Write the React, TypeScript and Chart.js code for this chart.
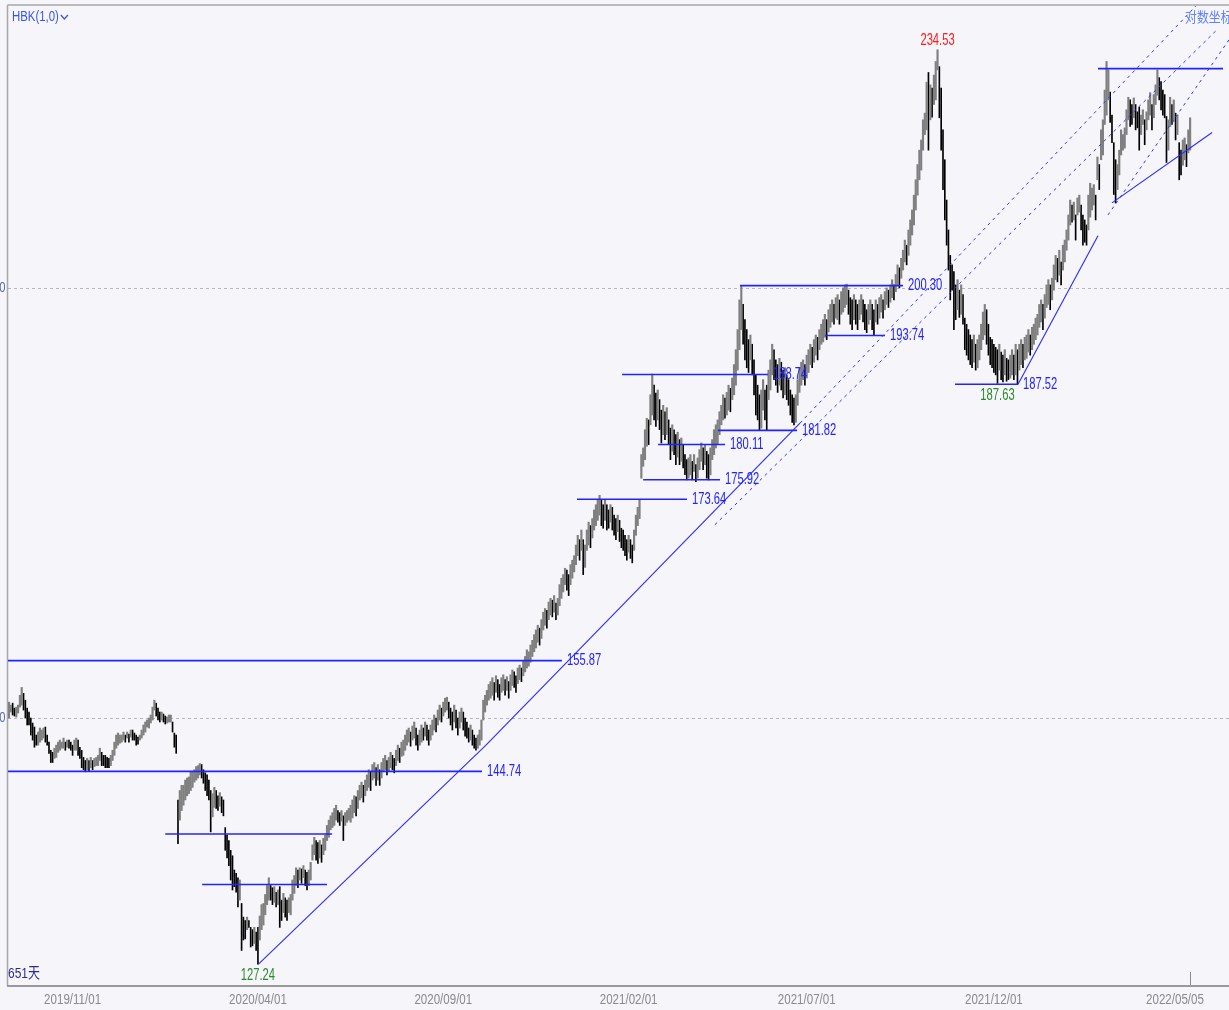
import { useEffect, useRef } from 'react';
import { Chart, registerables } from 'chart.js';

Chart.register(...registerables);

// ---------- DATA ----------
const highs: number[] = [
  151.6,151.3,151.5,151.0,151.1,151.3,152.3,153.1,152.5,151.8,
  151.0,150.6,150.0,149.5,149.1,148.3,148.6,149.0,148.8,149.0,
  149.1,148.3,147.6,146.8,146.6,147.0,147.3,147.6,147.8,147.6,
  148.0,147.6,147.8,147.8,147.6,147.3,147.8,148.0,147.8,147.1,
  146.8,146.1,145.8,146.0,145.8,146.1,145.8,146.0,146.1,146.3,
  147.0,146.6,146.3,146.3,146.1,146.0,146.3,146.8,147.6,148.3,
  148.5,148.3,148.3,148.6,148.3,148.6,148.4,148.8,148.8,148.5,
  148.3,148.1,148.3,148.8,149.3,149.6,149.8,150.0,150.3,151.1,
  151.8,151.5,151.0,150.6,150.6,150.4,150.2,150.1,150.3,150.3,
  149.6,148.5,148.3,142.0,142.9,143.4,143.4,143.9,144.1,144.2,
  144.7,144.7,144.9,145.2,145.3,145.5,145.4,144.9,144.6,144.4,
  143.9,142.9,142.6,143.2,142.9,142.4,142.7,142.3,142.0,139.4,
  138.7,138.2,137.3,136.8,135.5,135.2,134.8,134.6,132.5,131.3,
  131.0,131.3,131.0,130.4,130.2,130.4,130.0,130.4,131.4,132.4,
  132.5,133.3,134.1,134.8,134.1,133.9,134.0,133.5,133.7,134.0,
  132.8,133.4,133.0,132.8,133.0,133.3,134.6,135.0,135.7,135.5,
  135.7,135.6,135.9,135.5,135.3,135.5,136.2,137.8,138.5,138.2,
  138.0,138.2,137.8,138.4,138.7,139.6,140.1,140.5,140.8,141.2,
  141.5,141.0,140.8,141.0,140.5,140.8,141.0,141.2,141.5,142.0,
  142.4,142.3,142.9,143.4,143.7,143.4,143.9,144.4,144.9,144.7,
  145.4,145.6,145.1,145.4,144.9,145.6,146.0,146.3,145.8,146.1,
  146.6,146.3,146.0,146.8,147.3,147.0,147.6,147.8,148.3,148.8,
  149.0,148.6,149.2,149.6,149.0,148.3,148.8,149.3,149.0,149.6,
  149.3,148.8,149.3,149.8,150.3,150.0,150.8,151.3,151.0,151.6,
  152.0,152.1,151.6,151.0,150.6,151.3,150.8,150.0,150.6,151.0,
  150.6,150.0,149.6,149.0,149.3,148.8,148.3,148.0,148.3,148.8,
  149.8,151.8,152.3,152.8,153.4,153.7,154.1,153.6,154.3,153.9,
  153.4,154.1,154.4,153.9,154.2,153.7,154.4,154.9,154.7,154.3,
  155.1,155.4,155.1,155.9,156.3,157.0,156.8,157.5,158.0,158.6,
  159.1,159.6,159.3,160.2,161.0,161.4,161.2,162.1,162.5,162.3,
  162.8,162.0,162.5,164.0,164.7,165.1,165.8,165.6,165.1,166.2,
  166.7,167.2,168.4,169.5,169.0,170.1,169.0,168.4,170.1,171.0,
  170.6,171.4,172.4,173.0,173.6,174.1,173.6,173.0,173.6,173.0,
  172.4,173.0,172.7,171.8,171.4,171.8,171.2,170.3,170.1,169.5,
  169.0,169.5,169.0,168.4,170.1,171.8,172.7,173.6,178.9,179.7,
  181.9,183.3,183.1,186.2,188.8,187.4,186.4,186.8,185.6,184.3,
  184.9,184.1,184.6,183.1,182.1,182.5,181.9,181.3,181.6,180.7,
  180.9,180.1,178.9,178.3,178.5,178.9,178.1,178.9,177.7,178.5,
  179.5,180.3,179.7,180.1,179.3,178.9,179.7,180.7,181.9,182.5,
  183.1,184.1,184.9,186.2,185.8,186.5,187.4,187.0,188.3,190.0,
  191.9,194.5,198.4,200.2,197.8,195.8,194.5,193.2,193.8,192.6,
  190.6,188.7,187.4,186.2,186.8,188.1,186.8,187.4,189.3,190.6,
  192.6,191.9,190.6,190.0,190.8,190.3,189.3,189.6,188.7,188.1,
  186.8,186.2,185.8,186.2,188.1,189.6,190.3,190.6,190.0,191.2,
  191.9,192.6,192.2,193.2,193.8,193.5,194.5,195.2,195.8,196.5,
  195.8,197.1,197.8,198.4,197.8,198.7,199.1,198.4,199.5,200.0,
  200.4,200.5,199.7,198.7,198.4,199.1,198.4,197.8,198.4,199.1,
  198.4,197.8,197.1,197.8,198.4,197.8,197.1,198.4,197.8,198.7,
  199.1,198.4,199.5,200.0,199.7,200.4,201.1,200.4,201.8,203.1,
  202.7,204.0,205.1,206.5,205.8,207.9,209.3,210.7,212.8,215.0,
  217.2,219.3,220.8,223.8,224.8,229.5,231.0,229.1,228.6,230.6,
  232.7,234.53,231.9,228.6,222.3,217.9,212.1,207.9,204.4,203.1,
  202.2,200.4,201.1,199.7,200.4,199.1,196.0,195.2,194.5,193.8,
  193.2,193.8,192.6,193.2,193.8,195.2,196.8,197.8,197.1,195.2,
  193.5,193.2,192.6,192.2,191.9,192.6,191.6,191.2,191.9,190.8,
  190.6,191.2,191.9,191.2,192.6,191.9,192.6,193.2,192.6,193.5,
  193.8,194.5,193.8,194.8,195.2,196.0,196.5,197.8,198.4,197.8,
  199.1,200.4,201.1,200.4,201.3,203.1,204.4,204.0,205.1,203.5,
  205.8,206.5,207.9,210.0,212.1,211.4,211.8,210.0,212.4,212.8,
  211.4,210.0,209.3,208.6,212.8,214.5,213.8,214.3,212.8,218.3,
  217.2,222.3,223.8,228.3,232.7,231.4,228.0,224.5,220.4,217.9,
  217.2,219.3,222.3,221.6,222.6,225.3,227.2,226.8,226.1,227.1,
  226.1,225.0,225.7,224.5,225.3,223.8,225.0,226.8,227.9,226.1,
  227.6,229.1,231.4,230.2,229.6,228.3,227.6,224.3,223.8,227.2,
  226.1,226.8,224.8,224.5,220.4,219.3,220.8,221.1,220.1,222.3,
  224.1,
];

const lows: number[] = [
  150.0,150.6,150.3,150.2,150.1,150.5,151.1,151.3,150.8,150.0,
  149.3,149.3,148.3,147.8,147.1,147.3,147.3,147.6,147.8,148.0,
  147.6,147.3,146.5,145.6,145.6,146.0,146.1,146.6,146.8,147.0,
  147.0,146.8,147.1,147.0,146.8,146.3,146.8,146.8,146.3,146.0,
  145.1,144.9,144.7,144.9,144.8,145.1,144.9,145.2,145.3,145.3,
  145.8,145.3,145.3,145.1,145.1,145.1,145.3,145.8,146.3,147.0,
  147.3,147.5,147.6,147.8,147.6,148.0,147.6,148.1,147.8,147.8,
  147.3,147.4,147.8,148.0,148.3,148.6,149.1,149.0,149.5,149.8,
  150.8,150.2,149.8,149.6,149.8,149.6,149.4,149.5,149.6,149.6,
  148.6,147.1,146.5,137.9,140.1,141.0,141.5,142.0,142.4,142.6,
  142.9,143.2,143.7,143.9,144.1,144.4,144.1,143.6,142.9,142.4,
  142.0,139.0,140.4,141.3,141.2,141.0,141.4,140.8,140.5,137.3,
  136.6,135.9,134.6,133.7,134.0,133.5,132.2,132.8,128.4,129.3,
  129.4,130.2,130.4,128.7,128.8,129.0,128.4,127.24,129.3,130.2,
  130.6,131.5,132.4,132.8,132.8,132.4,132.6,132.2,132.4,130.4,
  131.0,131.7,131.3,131.0,131.7,131.5,132.8,133.4,134.1,133.9,
  134.6,134.3,134.8,134.1,133.7,134.1,134.6,136.4,136.9,136.4,
  136.1,136.6,136.2,136.9,137.3,138.2,138.5,139.2,139.4,139.6,
  140.1,139.9,139.6,140.0,138.2,139.6,139.9,140.1,139.9,140.3,
  140.8,140.5,141.2,142.0,142.2,141.8,142.4,142.9,143.2,142.9,
  143.9,144.1,143.4,143.9,143.4,144.1,144.7,144.9,144.4,144.7,
  145.1,144.9,144.6,145.3,145.8,145.6,146.2,146.3,146.8,147.3,
  147.6,147.2,147.8,148.0,147.3,146.8,147.3,147.6,147.8,148.2,
  147.8,147.3,147.8,148.3,148.8,148.6,149.3,149.8,149.6,150.2,
  150.6,150.8,150.0,149.3,148.8,149.6,149.0,148.3,149.0,149.6,
  148.8,148.2,148.0,147.6,147.8,147.3,147.0,146.8,147.0,147.3,
  147.8,149.8,150.6,151.3,151.8,152.0,152.3,151.8,152.6,152.1,
  151.8,152.6,152.8,152.3,152.8,152.0,152.8,153.3,153.1,152.6,
  153.5,153.9,153.7,154.3,154.7,155.1,155.3,155.7,156.3,156.8,
  157.2,157.8,157.5,158.2,159.1,159.6,159.3,160.2,160.7,160.5,
  161.0,160.2,160.7,161.7,162.5,163.2,164.0,163.4,162.8,164.0,
  164.7,165.4,166.2,167.2,166.7,167.8,165.1,165.9,167.8,168.4,
  168.1,169.2,170.1,170.6,171.2,171.8,170.6,170.3,171.2,170.1,
  170.3,171.0,170.1,169.5,169.0,169.9,168.8,168.1,167.8,167.2,
  166.7,167.6,166.9,166.4,167.8,169.5,170.6,171.4,176.1,177.5,
  178.3,179.9,180.1,182.5,183.7,183.1,182.3,183.1,181.9,180.3,
  181.3,180.7,181.3,180.1,178.3,179.3,178.9,177.7,178.6,177.7,
  178.1,177.3,176.5,175.9,176.1,176.5,175.9,176.9,175.7,176.1,
  177.1,178.1,177.1,177.7,176.1,175.9,176.5,178.3,178.9,179.7,
  180.2,181.3,182.5,183.1,183.3,183.7,184.3,184.1,185.6,186.2,
  187.4,189.3,191.9,194.5,192.6,190.6,189.6,189.0,190.6,188.7,
  186.2,183.7,183.1,181.9,182.1,184.3,183.1,181.9,185.6,186.8,
  188.7,188.1,187.4,186.5,187.4,186.8,185.8,186.2,185.6,184.9,
  183.7,182.8,182.5,182.8,184.9,186.5,187.4,188.1,187.4,188.3,
  189.0,190.0,189.6,190.3,191.2,190.6,191.9,192.6,192.9,193.5,
  193.2,194.2,194.8,195.5,195.2,196.0,195.8,195.2,196.5,196.8,
  197.4,197.8,196.5,195.2,194.5,195.8,195.2,194.5,195.8,196.5,
  195.5,194.5,194.1,195.2,195.8,194.5,193.8,195.5,195.2,196.0,
  196.8,196.0,197.1,197.8,197.4,198.1,198.7,198.4,199.5,200.4,
  200.0,201.3,202.4,203.5,203.1,204.4,205.8,207.2,208.6,210.7,
  212.8,215.0,216.4,219.3,221.6,222.3,219.3,223.8,224.2,226.1,
  226.8,231.4,224.1,219.3,213.6,209.3,205.8,202.4,198.4,199.7,
  194.5,195.8,197.1,196.1,196.5,195.2,191.9,191.2,190.6,190.0,
  189.6,190.3,189.3,189.6,190.6,191.9,193.2,193.8,192.6,191.2,
  190.0,189.6,189.0,188.7,187.63,189.3,188.1,187.8,188.7,187.9,
  188.1,188.3,188.7,188.1,188.7,187.52,189.3,190.0,189.6,190.6,
  190.8,191.6,191.2,191.9,192.6,193.2,193.8,194.8,195.5,194.5,
  196.0,197.4,197.8,197.1,198.4,199.7,201.1,200.8,201.7,200.4,
  202.4,203.5,205.1,206.5,208.6,209.0,209.3,206.5,210.0,210.4,
  207.9,205.8,206.2,205.8,207.9,209.7,210.7,211.4,209.3,215.0,
  213.6,217.9,218.6,223.1,224.5,226.8,223.4,220.4,212.9,211.7,
  213.6,215.7,218.6,219.3,219.6,221.6,223.8,222.8,223.1,224.1,
  222.3,222.6,219.3,221.6,223.1,220.1,222.3,223.8,224.5,222.3,
  224.1,226.1,227.5,226.8,225.3,224.5,224.1,217.5,219.3,222.8,
  223.1,223.5,220.8,221.6,215.0,215.7,217.1,217.9,216.9,218.9,
  219.3,
];

const tickIdx = [35, 137, 239, 341, 439, 542, 642];
const tickLabels = ['2019/11/01', '2020/04/01', '2020/09/01', '2021/02/01', '2021/07/01', '2021/12/01', '2022/05/05'];
const gridLevels = [200, 150];
const gridLabels = ['200', '150'];

// horizontal support / resistance levels
const levelPrices = [155.87, 144.74, 138.8, 134.2, 173.64, 175.92, 180.11, 181.82, 188.74, 200.30, 193.74, 187.52, 231.6];
const levelFrom = [-0.55, -0.55, 86, 106.3, 312.6, 349, 357.2, 390.2, 337.4, 402.3, 449.1, 520.6, 599.3];
const levelTo = [304.3, 260.3, 177.8, 175, 373.1, 391.3, 394.1, 433.7, 417.7, 492, 482.1, 555.3, 668.1];
const levelLabels = ['155.87', '144.74', '', '', '173.64', '175.92', '180.11', '181.82', '188.74', '200.30', '193.74', '187.52', ''];

// trend lines: [startIdx, startPrice, endIdx, endPrice]
const solidTrends = [
  [137.3, 127.24, 262.5, 147.3],
  [262.5, 147.3, 435.3, 182.7],
  [555.3, 187.52, 599.3, 207.1],
  [607.0, 211.7, 662.1, 221.9],
];
const dashedTrends = [
  [435.3, 182.7, 653.8, 241.7],
  [388.5, 170.7, 664.8, 237.7],
  [604.8, 210.0, 671.4, 236.1],
];

// extreme markers: [idx, price, text]
const highMarks: [number, number, string][] = [[511, 234.53, '234.53']];
const lowMarks: [number, number, string][] = [[137, 127.24, '127.24'], [544, 187.63, '187.63']];

const titleText = 'HBK(1,0)';
const scaleText = '对数坐标';
const dayText = '651天';

// ---------- STYLE ----------
const BG = '#f5f5fa';
const BLUE = '#2323ff';
const SANS = '"Liberation Sans", Arial, sans-serif';
const X_MIN = -0.55;
const X_MAX = 671.4;
const Y_MIN = 125.47;
const Y_MAX = 241.5;

function txt(ctx: CanvasRenderingContext2D, s: string, x: number, y: number, align: string, size: number, sx: number, color: string, family = SANS) {
  ctx.save();
  ctx.font = `${size}px ${family}`;
  ctx.fillStyle = color;
  ctx.textBaseline = 'middle';
  ctx.textAlign = 'left';
  const w = ctx.measureText(s).width * sx;
  const x0 = align === 'left' ? x : align === 'center' ? x - w / 2 : x - w;
  ctx.translate(x0, y);
  ctx.scale(sx, 1);
  ctx.fillText(s, 0, 0);
  ctx.restore();
  return w;
}

const annotPlugin = {
  id: 'annot',
  beforeDraw(chart: any) {
    const { ctx, chartArea: a } = chart;
    const y = chart.scales.y;
    ctx.save();
    ctx.fillStyle = BG;
    ctx.fillRect(0, 0, chart.width, chart.height);
    // dashed grid lines
    ctx.strokeStyle = '#b8b8b8';
    ctx.lineWidth = 1;
    ctx.setLineDash([3, 3]);
    gridLevels.forEach((v) => {
      const py = Math.round(y.getPixelForValue(v)) + 0.5;
      ctx.beginPath();
      ctx.moveTo(a.left, py);
      ctx.lineTo(a.right, py);
      ctx.stroke();
    });
    ctx.setLineDash([]);
    // clipped axis labels
    gridLevels.forEach((v, i) => {
      txt(ctx, gridLabels[i], 5.5, y.getPixelForValue(v), 'right', 15, 0.75, '#5a6aa8');
    });
    // frame
    ctx.strokeStyle = '#a8a8a8';
    ctx.lineWidth = 1.5;
    ctx.beginPath();
    ctx.moveTo(a.left - 0.5, 5);
    ctx.lineTo(a.right, 5);
    ctx.moveTo(a.left - 0.5, 5);
    ctx.lineTo(a.left - 0.5, a.bottom + 1);
    ctx.stroke();
    ctx.lineWidth = 2;
    ctx.strokeStyle = '#9a9a9a';
    ctx.beginPath();
    ctx.moveTo(a.left - 1, a.bottom + 1);
    ctx.lineTo(a.right, a.bottom + 1);
    ctx.stroke();
    ctx.restore();
  },
  afterDatasetsDraw(chart: any) {
    const { ctx, chartArea: a } = chart;
    const xs = chart.scales.x;
    const ys = chart.scales.y;
    const X = (v: number) => xs.getPixelForValue(v);
    const Y = (v: number) => ys.getPixelForValue(v);
    ctx.save();
    ctx.beginPath();
    ctx.rect(a.left, a.top, a.right - a.left, a.bottom - a.top);
    ctx.clip();

    // horizontal levels
    ctx.strokeStyle = BLUE;
    ctx.lineWidth = 1.6;
    levelPrices.forEach((p, i) => {
      const py = Y(p);
      ctx.beginPath();
      ctx.moveTo(X(levelFrom[i]), py);
      ctx.lineTo(X(levelTo[i]), py);
      ctx.stroke();
    });
    // solid trends
    ctx.lineWidth = 1.1;
    ctx.strokeStyle = '#2a2aff';
    solidTrends.forEach(([i1, p1, i2, p2]) => {
      ctx.beginPath();
      ctx.moveTo(X(i1), Y(p1));
      ctx.lineTo(X(i2), Y(p2));
      ctx.stroke();
    });
    // dashed trends
    ctx.setLineDash([3, 4]);
    ctx.lineWidth = 1;
    ctx.strokeStyle = '#3030ff';
    dashedTrends.forEach(([i1, p1, i2, p2]) => {
      ctx.beginPath();
      ctx.moveTo(X(i1), Y(p1));
      ctx.lineTo(X(i2), Y(p2));
      ctx.stroke();
    });
    ctx.setLineDash([]);
    ctx.restore();

    // level labels
    levelLabels.forEach((t, i) => {
      if (!t) return;
      txt(ctx, t, X(levelTo[i]) + 5, Y(levelPrices[i]), 'left', 16, 0.7, BLUE);
    });
    // extremes
    highMarks.forEach(([idx, p, t]) => txt(ctx, t, X(idx), Y(p) - 9, 'center', 16, 0.7, '#ff1a1a'));
    lowMarks.forEach(([idx, p, t]) => txt(ctx, t, X(idx), Y(p) + 12, 'center', 16, 0.7, '#2a8a2a'));

    // x labels
    tickIdx.forEach((idx, i) => {
      let cx = X(idx);
      if (i === tickIdx.length - 1) cx = Math.min(cx, chart.width - 54);
      txt(ctx, tickLabels[i], cx, a.bottom + 15, 'center', 15, 0.77, '#8a8a8a');
    });
    // last bar tick mark
    const lastX = Math.round(X(highs.length - 1)) + 0.5;
    ctx.save();
    ctx.strokeStyle = '#8a8a8a';
    ctx.lineWidth = 1;
    ctx.beginPath();
    ctx.moveTo(lastX, a.bottom - 13);
    ctx.lineTo(lastX, a.bottom);
    ctx.stroke();

    // title texts
    const tw = txt(ctx, titleText, a.left + 4, 17, 'left', 15, 0.76, '#3a55ee');
    ctx.strokeStyle = '#3a55ee';
    ctx.lineWidth = 1.3;
    ctx.beginPath();
    ctx.moveTo(a.left + 6 + tw, 15);
    ctx.lineTo(a.left + 9.5 + tw, 19);
    ctx.lineTo(a.left + 13 + tw, 15);
    ctx.stroke();
    ctx.restore();

    txt(ctx, scaleText, 1185, 17, 'left', 14, 0.85, '#5f80ff', '"Noto Sans CJK SC", sans-serif');
    txt(ctx, dayText, a.left, a.bottom - 11, 'left', 15, 0.8, '#2d2a8c', '"Liberation Sans", "Noto Sans CJK SC", sans-serif');
  },
};

export default function App() {
  const ref = useRef<HTMLCanvasElement | null>(null);
  useEffect(() => {
    document.body.style.margin = '0';
    document.body.style.background = BG;
    const upData: any[] = [];
    const downData: any[] = [];
    for (let i = 0; i < highs.length; i++) {
      const mid = (highs[i] + lows[i]) / 2;
      const prev = i > 0 ? (highs[i - 1] + lows[i - 1]) / 2 : mid;
      const pt = { x: i, y: [lows[i], highs[i]] };
      if (mid >= prev) upData.push(pt);
      else downData.push(pt);
    }
    const chart = new Chart(ref.current as HTMLCanvasElement, {
      type: 'bar',
      data: {
        datasets: [
          { data: upData, backgroundColor: '#808080', barThickness: 1.5, grouped: false, borderWidth: 0 } as any,
          { data: downData, backgroundColor: '#000000', barThickness: 1, grouped: false, borderWidth: 0 } as any,
        ],
      },
      options: {
        responsive: false,
        maintainAspectRatio: false,
        animation: false,
        events: [],
        layout: { padding: { left: 8, right: 0, top: 6, bottom: 25 } },
        plugins: { legend: { display: false }, tooltip: { enabled: false } },
        scales: {
          x: { type: 'linear', display: false, min: X_MIN, max: X_MAX, offset: false, bounds: 'data' } as any,
          y: { type: 'logarithmic', display: false, min: Y_MIN, max: Y_MAX, bounds: 'data' } as any,
        },
      },
      plugins: [annotPlugin],
    });
    return () => chart.destroy();
  }, []);
  return <canvas ref={ref} width={1229} height={1010} style={{ display: 'block' }} />;
}
